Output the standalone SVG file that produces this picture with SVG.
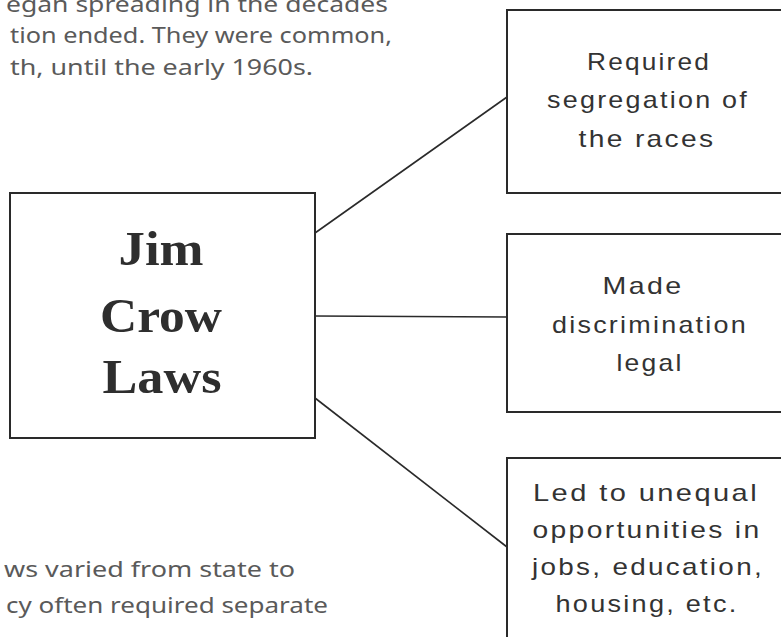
<svg xmlns="http://www.w3.org/2000/svg" width="781" height="637" viewBox="0 0 781 637">
<style>
.box{fill:#fff;stroke:#2a2a2a;stroke-width:2}
.conn{stroke:#2a2a2a;stroke-width:1.6;fill:none}
.hand{font-family:"Noto Sans","DejaVu Sans",sans-serif;font-size:22px;fill:#5a5a5a}
.lbl{font-family:"Liberation Sans",Arial,sans-serif;font-size:24px;letter-spacing:2px;fill:#333;text-anchor:middle}
.main{font-family:"Liberation Serif","Times New Roman",serif;font-size:48px;font-weight:bold;fill:#2e2e2e;text-anchor:middle}
</style>
<rect width="781" height="637" fill="#fff"/>
<g id="top-text">
<text class="hand" x="6" y="12" textLength="382" lengthAdjust="spacingAndGlyphs">egan spreading in the decades</text>
<text class="hand" x="10" y="43" textLength="382" lengthAdjust="spacingAndGlyphs">tion ended.  They were common,</text>
<text class="hand" x="10" y="75" textLength="303" lengthAdjust="spacingAndGlyphs">th, until the early 1960s.</text>
</g>
<g id="bottom-text">
<text class="hand" x="4" y="577" textLength="291" lengthAdjust="spacingAndGlyphs">ws varied from state to</text>
<text class="hand" x="6" y="613" textLength="322" lengthAdjust="spacingAndGlyphs">cy often required separate</text>
</g>
<g id="connectors">
<line class="conn" x1="315" y1="233" x2="507" y2="97"/>
<line class="conn" x1="315" y1="316" x2="507" y2="317"/>
<line class="conn" x1="315" y1="398" x2="507" y2="547"/>
</g>
<g id="jim-crow-laws">
<rect class="box" x="10" y="193" width="305" height="245"/>
<text class="main" x="161" y="265" textLength="85" lengthAdjust="spacingAndGlyphs">Jim</text>
<text class="main" x="161" y="332" textLength="122" lengthAdjust="spacingAndGlyphs">Crow</text>
<text class="main" x="162" y="393" textLength="119" lengthAdjust="spacingAndGlyphs">Laws</text>
</g>
<g id="segregation">
<rect class="box" x="507" y="10" width="290" height="183"/>
<text class="lbl" x="649" y="70" textLength="124" lengthAdjust="spacingAndGlyphs">Required</text>
<text class="lbl" x="648" y="108" textLength="202" lengthAdjust="spacingAndGlyphs">segregation of</text>
<text class="lbl" x="647" y="147" textLength="137" lengthAdjust="spacingAndGlyphs">the races</text>
</g>
<g id="discrimination">
<rect class="box" x="507" y="234" width="290" height="178"/>
<text class="lbl" x="643" y="294" textLength="81" lengthAdjust="spacingAndGlyphs">Made</text>
<text class="lbl" x="650" y="333" textLength="196" lengthAdjust="spacingAndGlyphs">discrimination</text>
<text class="lbl" x="650" y="371" textLength="67" lengthAdjust="spacingAndGlyphs">legal</text>
</g>
<g id="unequal">
<rect class="box" x="507" y="458" width="290" height="200"/>
<text class="lbl" x="646" y="501" textLength="226" lengthAdjust="spacingAndGlyphs">Led to unequal</text>
<text class="lbl" x="647" y="538" textLength="229" lengthAdjust="spacingAndGlyphs">opportunities in</text>
<text class="lbl" x="648" y="575" textLength="232" lengthAdjust="spacingAndGlyphs">jobs, education,</text>
<text class="lbl" x="647" y="612" textLength="183" lengthAdjust="spacingAndGlyphs">housing, etc.</text>
</g>
</svg>
